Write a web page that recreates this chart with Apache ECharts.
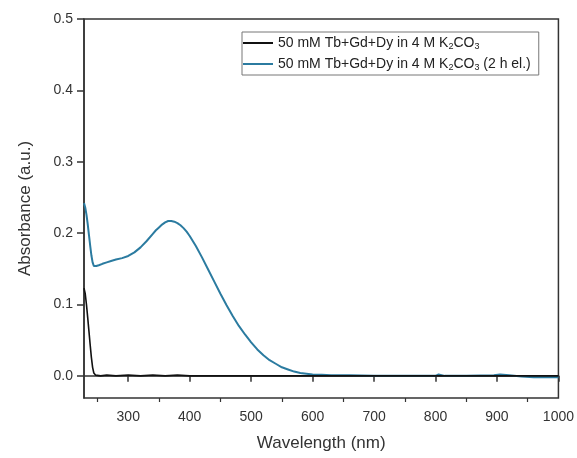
<!DOCTYPE html>
<html>
<head>
<meta charset="utf-8">
<script src="https://cdn.jsdelivr.net/npm/echarts@6/dist/echarts.min.js"></script>
<style>html,body{margin:0;padding:0;background:#fff}#c{width:577px;height:458px}</style>
</head>
<body>
<div id="c"></div>
<script>
var seriesNames = ['50 mM Tb+Gd+Dy in 4 M K2CO3', '50 mM Tb+Gd+Dy in 4 M K2CO3 (2 h el.)'];
var xTickLabels = [300, 400, 500, 600, 700, 800, 900, 1000];
var xMinorTicks = [250, 350, 450, 550, 650, 750, 850, 950];
var yTickLabels = [0.0, 0.1, 0.2, 0.3, 0.4, 0.5];

var blackX = [228,230,232,234,236,238,240,242,244,247,255,265,280,300,320,340,360,380,400,450,500,600,700,800,900,1000];
var blackY = [0.123,0.115,0.100,0.082,0.063,0.044,0.026,0.012,0.004,0.001,0.000,0.001,0.000,0.001,0.000,0.001,0.000,0.001,0.000,0.000,0.000,0.000,0.000,0.000,0.000,0.000];

var blueX = [228,230,232,234,236,238,240,242,244,246,248,252,258,265,272,280,290,300,310,320,330,340,345,350,355,360,365,370,375,380,385,390,395,400,410,420,430,440,450,460,470,480,490,500,510,520,530,540,550,560,570,580,590,600,615,630,660,700,750,800,805,815,850,895,905,920,940,960,980,1000];
var blueY = [0.242,0.236,0.226,0.213,0.198,0.183,0.169,0.159,0.154,0.153,0.154,0.155,0.157,0.159,0.161,0.163,0.165,0.168,0.173,0.180,0.189,0.199,0.204,0.208,0.212,0.215,0.217,0.217,0.216,0.214,0.211,0.207,0.202,0.196,0.182,0.166,0.149,0.132,0.115,0.099,0.084,0.070,0.058,0.047,0.037,0.029,0.022,0.017,0.012,0.009,0.006,0.004,0.003,0.002,0.0015,0.001,0.001,0.000,0.000,0.000,0.002,0.000,0.000,0.001,0.002,0.001,-0.001,-0.002,-0.002,-0.002];

function zip(a, b) { return a.map(function (v, i) { return [v, b[i]]; }); }

var FONT = '"Liberation Sans", Arial, sans-serif';
var AX = '#333';
var chart = echarts.init(document.getElementById('c'));
chart.setOption({
  animation: false,
  backgroundColor: '#fff',
  grid: { left: 84, right: 18, top: 19, bottom: 60, show: true, borderColor: AX, borderWidth: 1.5, backgroundColor: 'transparent' },
  legend: {
    left: 242, top: 32, orient: 'vertical',
    borderColor: '#777', borderWidth: 1, padding: [3, 8, 3, 1],
    icon: 'rect', itemWidth: 30, itemHeight: 2, itemGap: 5,
    data: seriesNames,
    formatter: function (n) { return n.replace('K2CO3', 'K{s|2}CO{s|3}'); },
    textStyle: { fontFamily: FONT, fontSize: 14, color: '#222', lineHeight: 16,
      rich: { s: { fontFamily: FONT, fontSize: 9, color: '#222', lineHeight: 16, padding: [7, 0, 0, 0] } } }
  },
  xAxis: [{
    type: 'value', min: 228, max: 1000,
    name: 'Wavelength (nm)', nameLocation: 'middle', nameGap: 37,
    nameTextStyle: { fontFamily: FONT, fontSize: 17, color: '#333' },
    axisLine: { show: true, lineStyle: { color: AX, width: 1.5 } },
    axisTick: { show: true, inside: false, length: 6, lineStyle: { color: AX, width: 1.5 }, customValues: xTickLabels },
    axisLabel: { fontFamily: FONT, fontSize: 14, color: '#333', margin: 12, customValues: xTickLabels,
      formatter: function (v) { return String(v); } },
    splitLine: { show: false }
  }, {
    type: 'value', min: 228, max: 1000, position: 'bottom',
    axisLine: { show: false },
    axisTick: { show: true, inside: false, length: 4, lineStyle: { color: AX, width: 1.2 }, customValues: xMinorTicks },
    axisLabel: { show: false },
    splitLine: { show: false }
  }],
  yAxis: {
    type: 'value', min: -0.031, max: 0.5,
    name: 'Absorbance (a.u.)', nameLocation: 'middle', nameGap: 50,
    nameTextStyle: { fontFamily: FONT, fontSize: 17, color: '#333' },
    axisLine: { show: true, lineStyle: { color: AX, width: 1.5 } },
    axisTick: { show: true, inside: false, length: 7, lineStyle: { color: AX, width: 1.5 }, customValues: yTickLabels },
    axisLabel: { fontFamily: FONT, fontSize: 14, color: '#333', margin: 11, customValues: yTickLabels,
      formatter: function (v) { return v.toFixed(1); } },
    splitLine: { show: false }
  },
  series: [{
    name: seriesNames[0], type: 'line', symbol: 'none', data: zip(blackX, blackY),
    lineStyle: { color: '#111', width: 1.6 }, itemStyle: { color: '#111' }, z: 3
  }, {
    name: seriesNames[1], type: 'line', symbol: 'none', data: zip(blueX, blueY),
    lineStyle: { color: '#2b7ba0', width: 2 }, itemStyle: { color: '#2b7ba0' }, z: 2
  }]
});
</script>
</body>
</html>
